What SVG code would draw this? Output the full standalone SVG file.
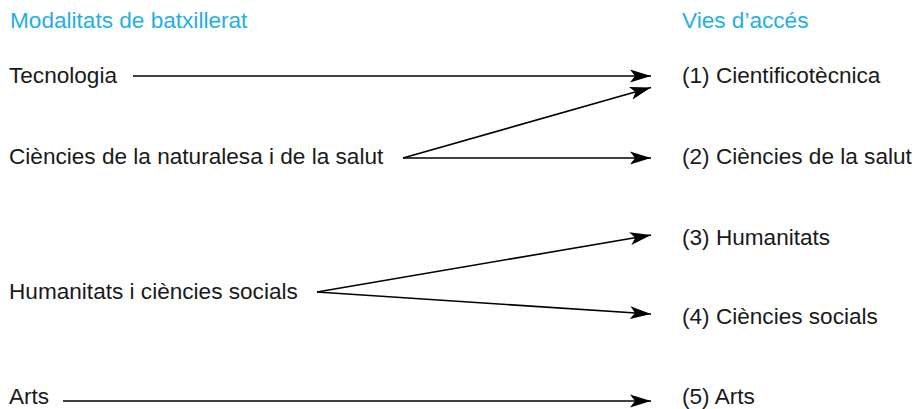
<svg xmlns="http://www.w3.org/2000/svg" width="918" height="409" viewBox="0 0 918 409">
<style>
text{font-family:"Liberation Sans",Arial,sans-serif;font-size:22.6px;fill:#1a1a1a}
.h{fill:#1fb0e6}
.c{stroke:#000;stroke-width:1.6;fill:none;marker-end:url(#ah)}
</style>
<defs>
<marker id="ah" markerUnits="userSpaceOnUse" markerWidth="22" markerHeight="14" refX="21" refY="6.5" orient="auto" viewBox="0 0 22 13">
<path d="M0,0 L21,6.5 L0,13 L5,6.5 Z" fill="#000"/>
</marker>
</defs>
<rect width="918" height="409" fill="#fff"/>
<g id="header-left"><text class="h" x="10" y="28">Modalitats de batxillerat</text></g>
<g id="header-right"><text class="h" x="682" y="28">Vies d’accés</text></g>
<g id="m-tecnologia"><text x="9" y="82.5">Tecnologia</text></g>
<g id="m-ciencies"><text x="9" y="163.5">Ciències de la naturalesa i de la salut</text></g>
<g id="m-humanitats"><text x="9" y="298.5">Humanitats i ciències socials</text></g>
<g id="m-arts"><text x="9" y="404">Arts</text></g>
<g id="v1"><text x="682" y="82.5">(1) Cientificotècnica</text></g>
<g id="v2"><text x="682" y="164">(2) Ciències de la salut</text></g>
<g id="v3"><text x="682" y="245">(3) Humanitats</text></g>
<g id="v4"><text x="682" y="323.5">(4) Ciències socials</text></g>
<g id="v5"><text x="682" y="404">(5) Arts</text></g>
<g id="connectors">
<line class="c" x1="133" y1="76" x2="651" y2="76"/>
<line class="c" x1="403" y1="158" x2="651" y2="87.5"/>
<line class="c" x1="403" y1="158" x2="651" y2="158"/>
<line class="c" x1="317" y1="292" x2="651" y2="235"/>
<line class="c" x1="317" y1="292" x2="651" y2="314"/>
<line class="c" x1="63" y1="401" x2="651" y2="401"/>
</g>
</svg>
